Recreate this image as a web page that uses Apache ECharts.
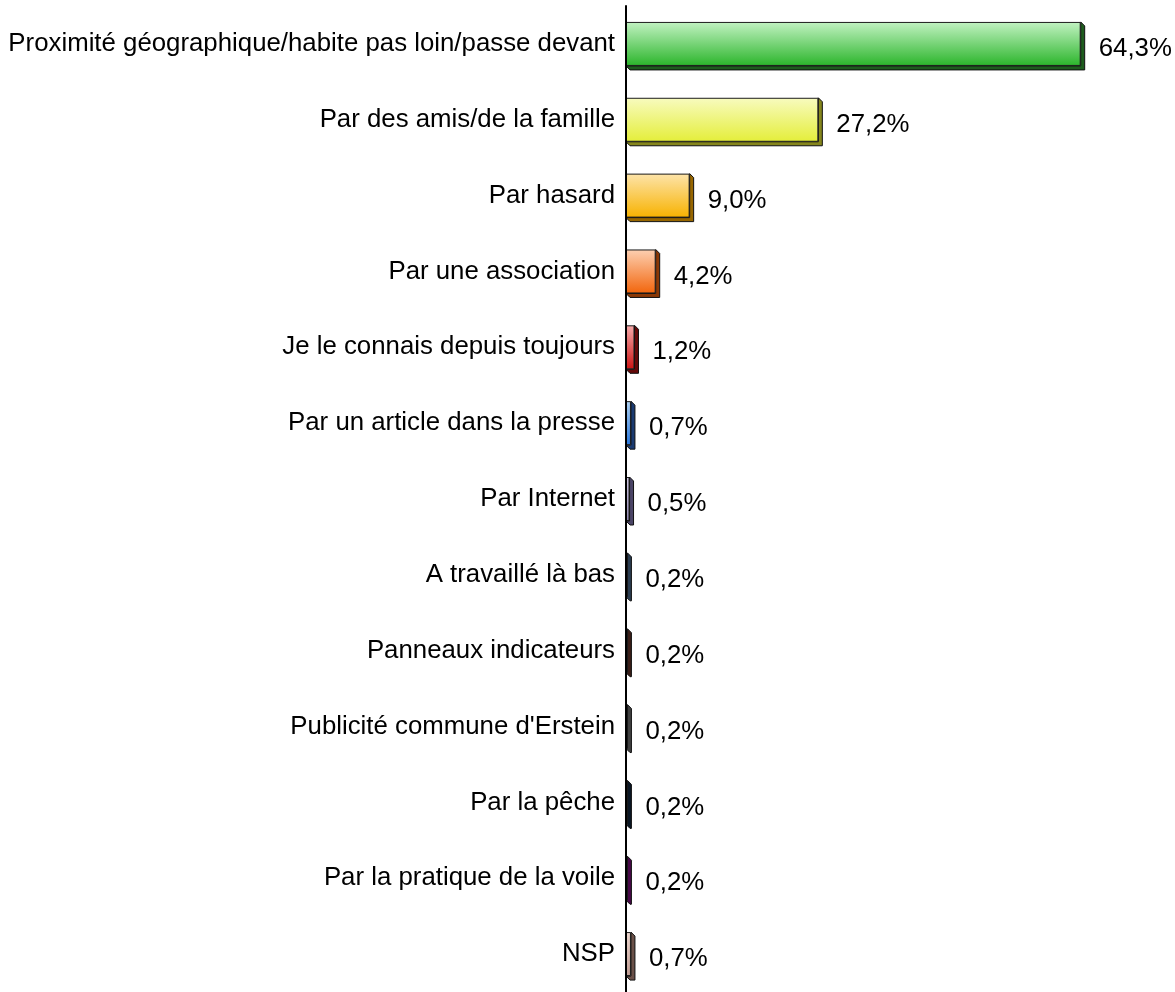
<!DOCTYPE html>
<html>
<head>
<meta charset="utf-8">
<script src="https://cdn.jsdelivr.net/npm/echarts@6/dist/echarts.min.js"></script>
<style>
html,body{margin:0;padding:0;background:#fff;}
#chart{width:1175px;height:992px;}
</style>
</head>
<body>
<div id="chart"></div>
<script>
var categories = [
  "Proximité géographique/habite pas loin/passe devant",
  "Par des amis/de la famille",
  "Par hasard",
  "Par une association",
  "Je le connais depuis toujours",
  "Par un article dans la presse",
  "Par Internet",
  "A travaillé là bas",
  "Panneaux indicateurs",
  "Publicité commune d'Erstein",
  "Par la pêche",
  "Par la pratique de la voile",
  "NSP"
];
var values = [64.3, 27.2, 9.0, 4.2, 1.2, 0.7, 0.5, 0.2, 0.2, 0.2, 0.2, 0.2, 0.7];

// [top colour, bottom colour, depth colour]
var palette = [
  ["#c2f2c2", "#2bb52b", "#1e5c1e"],
  ["#f8fbbf", "#e4ee3a", "#85861c"],
  ["#fde4aa", "#f7b200", "#976600"],
  ["#fdd0b2", "#f2650c", "#8a3806"],
  ["#f6aaaa", "#cc1414", "#640808"],
  ["#b0d2f2", "#2877de", "#1a3a70"],
  ["#d0c8e2", "#9088b0", "#4a4466"],
  ["#b0c4d8", "#56789a", "#2a3c50"],
  ["#9a6a60", "#6a3a30", "#3a1e18"],
  ["#b0b0b0", "#808080", "#404040"],
  ["#2a4a6a", "#142c46", "#0a1624"],
  ["#c040c0", "#901090", "#480848"],
  ["#eed8d0", "#c09c92", "#6a5048"]
];

var FONT = 'Liberation Sans, Arial, sans-serif';
var DEPTH = 4;
var BAR_W = 44;

var barData = values.map(function (v, i) {
  var p = palette[i];
  return {
    value: v,
    itemStyle: {
      color: new echarts.graphic.LinearGradient(0, 0, 0, 1, [
        {offset: 0, color: p[0]},
        {offset: 1, color: p[1]}
      ]),
      borderColor: "#1a1a1a",
      borderWidth: 1
    }
  };
});

var depthData = values.map(function (v, i) { return [v, i]; });

function renderDepth(params, api) {
  var i = api.value(1);
  var start = api.coord([0, i]);
  var end = api.coord([api.value(0), i]);
  var x0 = start[0], x1 = end[0];
  var y0 = start[1] - BAR_W / 2, y1 = start[1] + BAR_W / 2;
  var d = DEPTH;
  return {
    type: 'polygon',
    shape: {
      points: [[x0, y1], [x1, y1], [x1, y0], [x1 + d, y0 + d], [x1 + d, y1 + d], [x0 + d, y1 + d]]
    },
    style: {
      fill: palette[i][2],
      stroke: '#111',
      lineWidth: 1
    }
  };
}

var chart = echarts.init(document.getElementById('chart'), null, {renderer: 'canvas'});
chart.setOption({
  animation: false,
  backgroundColor: '#fff',
  grid: {left: 626, right: 54, top: 6, bottom: -2, containLabel: false},
  xAxis: {type: 'value', min: 0, max: 70, show: false},
  yAxis: {
    type: 'category',
    data: categories,
    inverse: true,
    axisLine: {show: true, lineStyle: {color: '#000', width: 2}},
    axisTick: {show: false},
    splitLine: {show: false},
    z: 10,
    axisLabel: {
      color: '#000',
      fontFamily: FONT,
      fontSize: 25.8,
      margin: 11,
      padding: [0, 0, 5, 0]
    }
  },
  series: [{
    type: 'custom',
    renderItem: renderDepth,
    data: depthData,
    encode: {x: 0, y: 1},
    z: 2,
    silent: true
  }, {
    type: 'bar',
    data: barData,
    barWidth: BAR_W,
    z: 3,
    label: {
      show: true,
      position: 'right',
      distance: 18,
      offset: [0, 5],
      color: '#000',
      fontFamily: FONT,
      fontSize: 25.8,
      formatter: function (p) {
        return p.value.toFixed(1).replace('.', ',') + '%';
      }
    }
  }]
});
</script>
</body>
</html>
